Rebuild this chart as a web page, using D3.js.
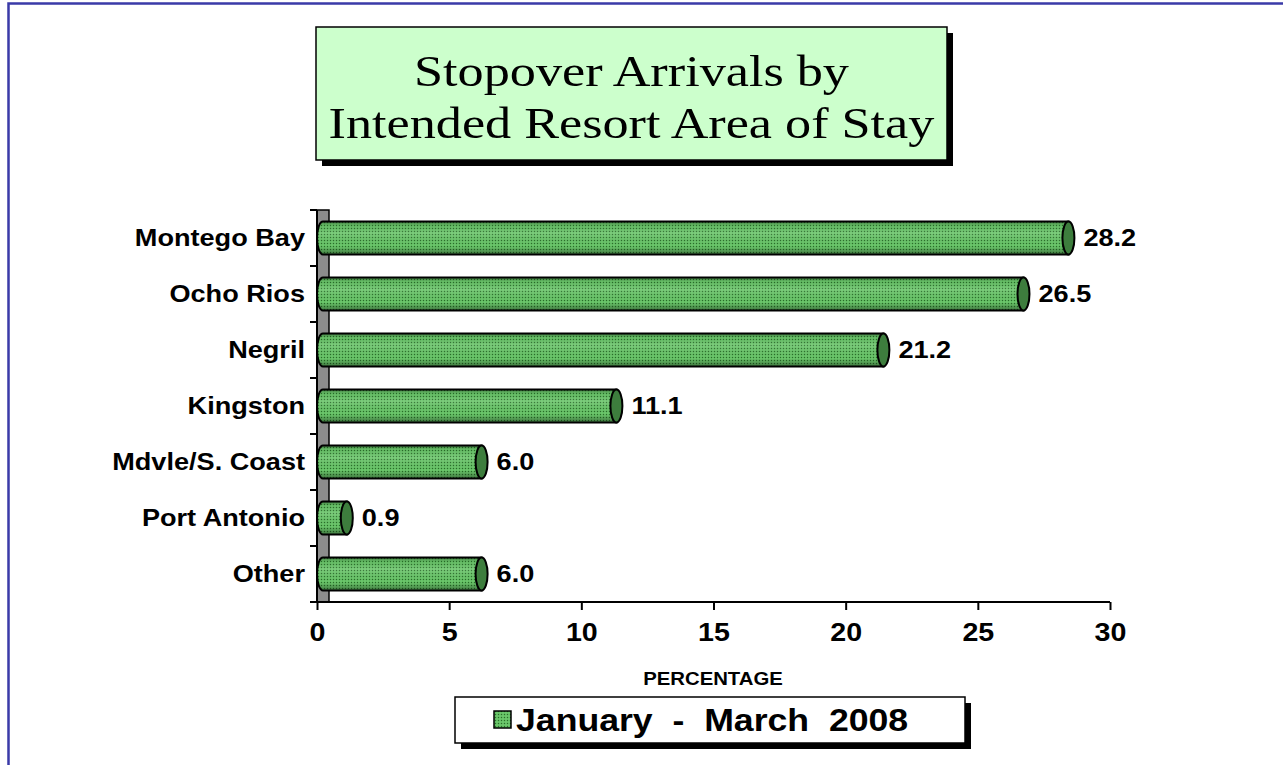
<!DOCTYPE html>
<html>
<head>
<meta charset="utf-8">
<script src="https://d3js.org/d3.v7.min.js"></script>
<style>
  html, body { margin: 0; padding: 0; background: #fff; }
  svg { display: block; }
</style>
</head>
<body>
<script>
// data
var categories = ["Montego Bay", "Ocho Rios", "Negril", "Kingston", "Mdvle/S. Coast", "Port Antonio", "Other"];
var values = [28.2, 26.5, 21.2, 11.1, 6.0, 0.9, 6.0];
var xTicks = [0, 5, 10, 15, 20, 25, 30];
var seriesName = "January  -  March  2008";
var titleLines = ["Stopover Arrivals by", "Intended Resort Area of Stay"];

var W = 1283, H = 765;
var sans = "'Liberation Sans', Arial, sans-serif";
var stretch = 1.13; // text in the original is a bit wide

var svg = d3.select("body").append("svg").attr("width", W).attr("height", H);

var defs = svg.append("defs");
// dotted texture
var pat = defs.append("pattern").attr("id", "dots")
    .attr("patternUnits", "userSpaceOnUse").attr("width", 3).attr("height", 3);
pat.append("rect").attr("width", 3).attr("height", 3).attr("fill", "#5fbd5f");
pat.append("rect").attr("width", 1).attr("height", 1).attr("fill", "#2c6a2c");
pat.append("rect").attr("x", 1.5).attr("y", 1.5).attr("width", 1).attr("height", 1).attr("fill", "#94de94");
// cylinder shading
var grad = defs.append("linearGradient").attr("id", "shade")
    .attr("x1", 0).attr("y1", 0).attr("x2", 0).attr("y2", 1);
grad.append("stop").attr("offset", "0").attr("stop-color", "#000").attr("stop-opacity", 0.35);
grad.append("stop").attr("offset", "0.12").attr("stop-color", "#000").attr("stop-opacity", 0.05);
grad.append("stop").attr("offset", "0.35").attr("stop-color", "#fff").attr("stop-opacity", 0.12);
grad.append("stop").attr("offset", "0.75").attr("stop-color", "#000").attr("stop-opacity", 0.0);
grad.append("stop").attr("offset", "1").attr("stop-color", "#000").attr("stop-opacity", 0.4);

// outer border
svg.append("rect").attr("x", 8.5).attr("y", 3.5).attr("width", W).attr("height", H)
    .attr("fill", "none").attr("stroke", "#3a3aa8").attr("stroke-width", 2.5);

// title box
var tb = {x: 316, y: 27, w: 631, h: 133};
svg.append("rect").attr("x", tb.x + 6).attr("y", tb.y + 6).attr("width", tb.w).attr("height", tb.h).attr("fill", "#000");
svg.append("rect").attr("x", tb.x).attr("y", tb.y).attr("width", tb.w).attr("height", tb.h)
    .attr("fill", "#ccffcc").attr("stroke", "#000").attr("stroke-width", 1.5);
svg.selectAll(".title").data(titleLines).enter().append("text")
    .attr("transform", function(d, i) {
      return "translate(" + (tb.x + tb.w / 2) + "," + (86 + i * 52) + ") scale(1.16,1)";
    })
    .attr("text-anchor", "middle")
    .attr("font-family", "'Liberation Serif', 'DejaVu Serif', serif")
    .attr("font-size", 45)
    .attr("fill", "#000")
    .text(function(d) { return d; });

// scales
var x = d3.scaleLinear().domain([0, 30]).range([317, 1110]);
var y = d3.scaleBand().domain(categories).range([210, 602]).paddingInner(0).paddingOuter(0);
var depth = 12;
var barH = 33;

// wall
svg.append("rect").attr("x", x(0)).attr("y", y.range()[0]).attr("width", depth)
    .attr("height", y.range()[1] - y.range()[0])
    .attr("fill", "#8c8c8c").attr("stroke", "#000").attr("stroke-width", 1.5);

// y axis ticks at band boundaries
var bounds = categories.map(function(c) { return y(c); }).concat([y.range()[1]]);
svg.selectAll(".ytick").data(bounds).enter().append("line")
    .attr("x1", x(0) - 7).attr("x2", x(0))
    .attr("y1", function(d) { return d; }).attr("y2", function(d) { return d; })
    .attr("stroke", "#000").attr("stroke-width", 2);
svg.append("line").attr("x1", x(0)).attr("x2", x(0)).attr("y1", y.range()[0]).attr("y2", y.range()[1])
    .attr("stroke", "#000").attr("stroke-width", 2);

// x axis
var xAxis = d3.axisBottom(x).tickValues(xTicks).tickSize(8).tickPadding(13).tickFormat(d3.format("d"));
var gx = svg.append("g").attr("transform", "translate(0," + y.range()[1] + ")").call(xAxis);
gx.select(".domain").attr("stroke", "#000").attr("stroke-width", 2).attr("d", "M" + x(0) + ",0H" + x(30));
gx.selectAll(".tick line").attr("stroke", "#000").attr("stroke-width", 2);
gx.selectAll(".tick text").attr("font-family", sans)
    .attr("font-weight", "bold").attr("font-size", 26).attr("fill", "#000")
    .attr("transform", "scale(1.1,1)");

// category labels
svg.selectAll(".cat").data(categories).enter().append("text")
    .attr("transform", function(d) {
      return "translate(305," + (y(d) + y.bandwidth() / 2) + ") scale(" + stretch + ",1)";
    })
    .attr("dy", "0.35em")
    .attr("text-anchor", "end")
    .attr("font-family", sans)
    .attr("font-weight", "bold").attr("font-size", 24)
    .text(function(d) { return d; });

// bars (cylinders)
var bars = svg.selectAll(".bar").data(values).enter().append("g");
var rx = 6, ox = depth / 2;
bars.each(function(v, i) {
  var g = d3.select(this);
  var cy = y(categories[i]) + y.bandwidth() / 2;
  var x0 = x(0) + ox, x1 = x(v) + ox;
  var top = cy - barH / 2, bot = cy + barH / 2;
  var path = "M" + x1 + "," + top + "H" + x0 +
    "A" + rx + "," + (barH / 2) + " 0 0 0 " + x0 + "," + bot + "H" + x1 + "Z";
  g.append("path").attr("d", path).attr("fill", "url(#dots)");
  g.append("path").attr("d", path).attr("fill", "url(#shade)")
    .attr("stroke", "#000").attr("stroke-width", 2);
  g.append("ellipse").attr("cx", x1).attr("cy", cy).attr("rx", rx).attr("ry", barH / 2)
    .attr("fill", "#3d7d3d").attr("stroke", "#000").attr("stroke-width", 2);
  g.append("text")
    .attr("transform", "translate(" + (x1 + rx + 9) + "," + cy + ") scale(" + stretch + ",1)")
    .attr("dy", "0.35em")
    .attr("font-family", sans)
    .attr("font-weight", "bold").attr("font-size", 24)
    .text(d3.format(".1f")(v));
});

// axis title
svg.append("text").attr("transform", "translate(713,685) scale(" + stretch + ",1)")
    .attr("text-anchor", "middle")
    .attr("font-family", sans)
    .attr("font-weight", "bold").attr("font-size", 18).text("PERCENTAGE");

// legend
var lb = {x: 455, y: 697, w: 510, h: 46};
svg.append("rect").attr("x", lb.x + 6).attr("y", lb.y + 6).attr("width", lb.w).attr("height", lb.h).attr("fill", "#000");
svg.append("rect").attr("x", lb.x).attr("y", lb.y).attr("width", lb.w).attr("height", lb.h)
    .attr("fill", "#fff").attr("stroke", "#000").attr("stroke-width", 1.5);
svg.append("rect").attr("x", 494).attr("y", 711).attr("width", 17).attr("height", 17)
    .attr("fill", "url(#dots)").attr("stroke", "#000").attr("stroke-width", 1.5);
svg.append("text").attr("transform", "translate(516,720) scale(1.15,1)")
    .attr("dy", "0.36em")
    .attr("font-family", sans)
    .attr("font-weight", "bold").attr("font-size", 31)
    .attr("xml:space", "preserve").style("white-space", "pre")
    .text(seriesName);
</script>
</body>
</html>
